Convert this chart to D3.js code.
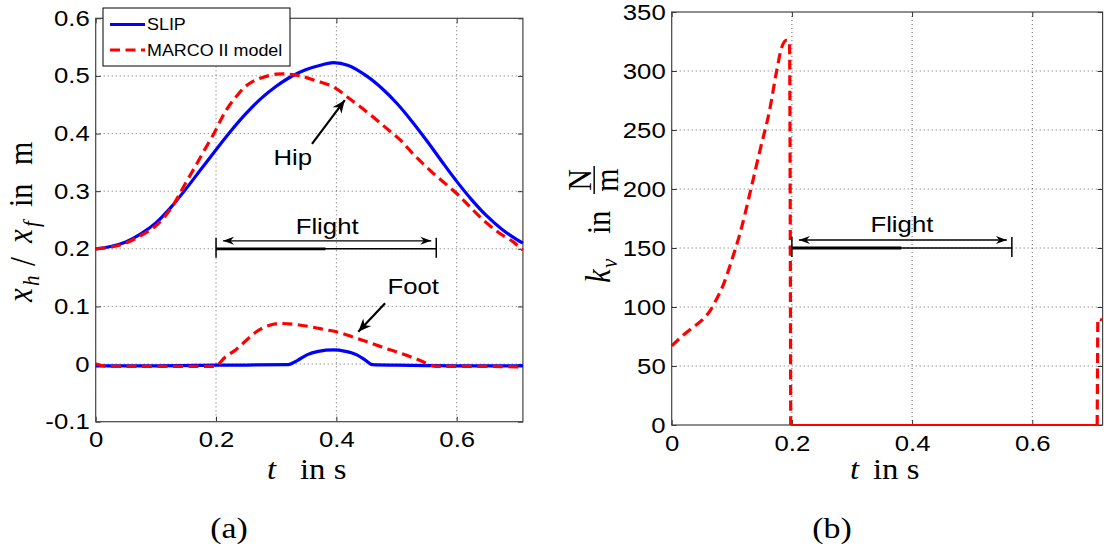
<!DOCTYPE html>
<html>
<head>
<meta charset="utf-8">
<script src="https://cdn.jsdelivr.net/npm/d3@7"></script>
<style>
  body { margin: 0; background: #fff; }
  svg { display: block; }
</style>
</head>
<body>
<svg id="fig" width="1104" height="547"></svg>
<script>
// ---------- panel (a): hip and foot positions (m) over time (s) ----------
const slipHipT = [0, 0.025, 0.05, 0.075, 0.1, 0.125, 0.15, 0.175, 0.2, 0.225, 0.25, 0.275, 0.3, 0.325, 0.35, 0.375, 0.395, 0.42, 0.45, 0.475, 0.5, 0.525, 0.55, 0.575, 0.6, 0.625, 0.65, 0.675, 0.7, 0.71];
const slipHip  = [0.200, 0.204, 0.212, 0.226, 0.245, 0.272, 0.304, 0.338, 0.372, 0.405, 0.435, 0.461, 0.482, 0.499, 0.511, 0.519, 0.523, 0.518, 0.500, 0.479, 0.453, 0.422, 0.388, 0.352, 0.317, 0.285, 0.257, 0.234, 0.216, 0.210];

const marcoHipT = [0, 0.025, 0.05, 0.075, 0.1, 0.125, 0.15, 0.165, 0.18, 0.197, 0.21, 0.221, 0.235, 0.248, 0.262, 0.276, 0.3, 0.32, 0.34, 0.365, 0.395, 0.42, 0.45, 0.48, 0.506, 0.53, 0.561, 0.6, 0.62, 0.644, 0.67, 0.694, 0.705, 0.71];
const marcoHip  = [0.200, 0.203, 0.210, 0.223, 0.240, 0.270, 0.315, 0.342, 0.370, 0.401, 0.428, 0.447, 0.466, 0.481, 0.491, 0.497, 0.503, 0.503, 0.500, 0.492, 0.481, 0.462, 0.438, 0.412, 0.389, 0.362, 0.331, 0.296, 0.275, 0.250, 0.228, 0.212, 0.202, 0.198];

const slipFootT = [0, 0.1, 0.2, 0.32, 0.335, 0.351, 0.37, 0.395, 0.415, 0.434, 0.448, 0.46, 0.5, 0.6, 0.71];
const slipFoot  = [-0.003, -0.003, -0.002, -0.001, 0.006, 0.016, 0.022, 0.0245, 0.022, 0.016, 0.007, -0.001, -0.002, -0.003, -0.003];

const marcoFootT = [0, 0.02, 0.1, 0.198, 0.215, 0.233, 0.25, 0.267, 0.285, 0.306, 0.33, 0.356, 0.38, 0.4, 0.425, 0.45, 0.48, 0.506, 0.535, 0.567, 0.65, 0.7, 0.71];
const marcoFoot  = [0, -0.004, -0.004, -0.004, 0.012, 0.025, 0.041, 0.056, 0.066, 0.0705, 0.069, 0.065, 0.060, 0.056, 0.048, 0.039, 0.028, 0.019, 0.008, -0.004, -0.004, -0.005, -0.006];

// ---------- panel (b): vertical stiffness k_v (N/m) ----------
const kvStanceT = [0, 0.019, 0.036, 0.053, 0.064, 0.075, 0.086, 0.102, 0.114, 0.130, 0.147, 0.163, 0.175, 0.183, 0.191, 0.196, 0.198];
const kvStance  = [67, 76, 83, 90, 97, 107, 119, 143, 163, 196, 233, 267, 301, 320, 326, 325, 0];
const kvFlightT = [0.198, 0.708];
const kvFlight  = [0, 0];
const kvTouchT  = [0.708, 0.709, 0.716];
const kvTouch   = [0, 90, 89];

// flight phase
const flightStart = 0.2, flightEnd = 0.566, flightMark = 0.382;

// tick values
const xTicks  = [0, 0.2, 0.4, 0.6];
const yTicksA = [-0.1, 0, 0.1, 0.2, 0.3, 0.4, 0.5, 0.6];
const yTicksB = [0, 50, 100, 150, 200, 250, 300, 350];

// legend entries
const legendItems = [
  { name: "SLIP", color: "#0000ff", dash: null },
  { name: "MARCO II model", color: "#ff0000", dash: "10,5.5" }
];

const BLUE = "#0000ff", RED = "#ff0000";
const SANS = "'Liberation Sans', Arial, Helvetica, sans-serif";
const SERIF = "'Liberation Serif', 'Times New Roman', serif";
const SX = 1.17;   // horizontal widening of the sans lettering
const SXS = 1.13;  // horizontal widening of the serif lettering
const DASH = "10,5.5";
const SMOOTH = d3.curveCatmullRom.alpha(0.5);

const svg = d3.select("#fig");

const xA = d3.scaleLinear([0, 0.71], [95.7, 522.9]);
const yA = d3.scaleLinear([-0.1, 0.6], [421.7, 18.3]);
const xB = d3.scaleLinear([0, 0.717], [671.7, 1102.6]);
const yB = d3.scaleLinear([0, 350], [425, 12]);

const fmtNum = d => (d === 0 ? "0" : String(+d.toFixed(2)));

function sansText(g, x, y, str, size, anchor) {
  return g.append("text")
    .attr("transform", `translate(${x},${y}) scale(${SX},1)`)
    .attr("text-anchor", anchor)
    .attr("font-family", SANS)
    .attr("font-size", size)
    .attr("fill", "#000")
    .text(str);
}

function drawPanel(x, y, yTicks) {
  const g = svg.append("g");
  const [xl, xr] = x.range();
  const [yb, yt] = y.range();
  const [dx0, dx1] = x.domain();
  const [dy0, dy1] = y.domain();

  // dotted grid
  g.append("g").selectAll("line")
    .data(xTicks.filter(d => d > dx0 && d < dx1)).join("line")
    .attr("x1", d => x(d)).attr("x2", d => x(d))
    .attr("y1", yt).attr("y2", yb);
  g.append("g").selectAll("line")
    .data(yTicks.filter(d => d > dy0 && d < dy1)).join("line")
    .attr("x1", xl).attr("x2", xr)
    .attr("y1", d => y(d)).attr("y2", d => y(d));
  g.selectAll("line")
    .attr("stroke", "#666").attr("stroke-width", 1)
    .attr("stroke-dasharray", "1,3");

  // axes with inward ticks on all four sides
  const bottom = g.append("g").attr("transform", `translate(0,${yb})`)
    .call(d3.axisBottom(x).tickValues(xTicks).tickSizeInner(-5).tickSizeOuter(0)
      .tickPadding(10).tickFormat(fmtNum));
  const left = g.append("g").attr("transform", `translate(${xl},0)`)
    .call(d3.axisLeft(y).tickValues(yTicks).tickSizeInner(-5).tickSizeOuter(0)
      .tickPadding(5).tickFormat(fmtNum));
  const top = g.append("g").attr("transform", `translate(0,${yt})`)
    .call(d3.axisTop(x).tickValues(xTicks).tickSizeInner(-5).tickSizeOuter(0).tickFormat(""));
  const right = g.append("g").attr("transform", `translate(${xr},0)`)
    .call(d3.axisRight(y).tickValues(yTicks).tickSizeInner(-5).tickSizeOuter(0).tickFormat(""));

  [bottom, left, top, right].forEach(a => {
    a.select(".domain").remove();
    a.selectAll(".tick line").attr("stroke", "#333").attr("stroke-width", 1);
    a.selectAll(".tick text").attr("font-family", SANS).attr("font-size", 22).attr("fill", "#000");
  });
  bottom.selectAll(".tick text").attr("transform", `scale(${SX},1)`);
  left.selectAll(".tick text")
    .attr("x", -6 / SX)
    .attr("transform", `scale(${SX},1)`);

  // axes box
  g.append("rect")
    .attr("x", xl).attr("y", yt)
    .attr("width", xr - xl).attr("height", yb - yt)
    .attr("fill", "none").attr("stroke", "#444").attr("stroke-width", 1.2);
  return g;
}

function series(g, x, y, ts, vs, color, dash, width, curve) {
  const pts = ts.map((t, i) => [t, vs[i]]);
  g.append("path")
    .datum(pts)
    .attr("d", d3.line().x(d => x(d[0])).y(d => y(d[1])).curve(curve || d3.curveMonotoneX))
    .attr("fill", "none")
    .attr("stroke", color)
    .attr("stroke-width", width)
    .attr("stroke-dasharray", dash)
    .attr("stroke-linejoin", "round");
}

function arrowHead(x1, y1, x2, y2, len, half, back) {
  const a = Math.atan2(y2 - y1, x2 - x1);
  const ca = Math.cos(a), sa = Math.sin(a);
  const bx = x2 - len * ca, by = y2 - len * sa;
  const p1 = [bx - half * sa, by + half * ca];
  const p2 = [bx + half * sa, by - half * ca];
  const n = [x2 - (len - back) * ca, y2 - (len - back) * sa];
  return `M${x2},${y2}L${p1[0]},${p1[1]}L${n[0]},${n[1]}L${p2[0]},${p2[1]}Z`;
}

function pointer(g, x1, y1, x2, y2) {
  g.append("line").attr("x1", x1).attr("y1", y1).attr("x2", x2).attr("y2", y2)
    .attr("stroke", "#000").attr("stroke-width", 2.2);
  g.append("path").attr("d", arrowHead(x1, y1, x2, y2, 13, 5.5, 4)).attr("fill", "#000");
}

// flight-phase span marker: bar | <---> | above a baseline at level v
function flightSpan(g, x, yPix) {
  const xs = x(flightStart), xe = x(flightEnd), xm = x(flightMark);
  g.append("line").attr("x1", xs).attr("x2", xe).attr("y1", yPix).attr("y2", yPix)
    .attr("stroke", "#000").attr("stroke-width", 1.4);
  g.append("line").attr("x1", xs).attr("x2", xm).attr("y1", yPix).attr("y2", yPix)
    .attr("stroke", "#000").attr("stroke-width", 2.8);
  [xs, xe].forEach(xx => g.append("line")
    .attr("x1", xx).attr("x2", xx).attr("y1", yPix - 11).attr("y2", yPix + 9)
    .attr("stroke", "#000").attr("stroke-width", 1.5));
  const ya = yPix - 8;
  const a0 = xs + 7, a1 = xe - 5;
  g.append("line").attr("x1", a0).attr("x2", a1).attr("y1", ya).attr("y2", ya)
    .attr("stroke", "#000").attr("stroke-width", 1.3);
  g.append("path").attr("d", arrowHead(a1, ya, a0, ya, 11, 4, 3.5)).attr("fill", "#000");
  g.append("path").attr("d", arrowHead(a0, ya, a1, ya, 11, 4, 3.5)).attr("fill", "#000");
}

// ================= panel (a) =================
const gA = drawPanel(xA, yA, yTicksA);
series(gA, xA, yA, slipHipT, slipHip, BLUE, null, 3.2, SMOOTH);
series(gA, xA, yA, slipFootT, slipFoot, BLUE, null, 3.2);
series(gA, xA, yA, marcoHipT, marcoHip, RED, DASH, 3.2, SMOOTH);
series(gA, xA, yA, marcoFootT, marcoFoot, RED, DASH, 3.2);

flightSpan(gA, xA, yA(0.2));
sansText(gA, (xA(flightStart) + xA(flightEnd)) / 2 + 1, 234, "Flight", 22, "middle");

pointer(gA, xA(0.3595), yA(0.382), xA(0.414), yA(0.458));
sansText(gA, xA(0.3595), 165, "Hip", 22, "end");
pointer(gA, xA(0.481), yA(0.1055), xA(0.4364), yA(0.0562));
sansText(gA, xA(0.485), 294, "Foot", 22, "start");

// legend
const lg = svg.append("g");
lg.append("rect").attr("x", 103).attr("y", 8).attr("width", 187).attr("height", 58)
  .attr("fill", "#fff").attr("stroke", "#000").attr("stroke-width", 1);
legendItems.forEach((it, i) => {
  const ly = 24.5 + i * 25.5;
  lg.append("line").attr("x1", 110).attr("x2", 145).attr("y1", ly).attr("y2", ly)
    .attr("stroke", it.color).attr("stroke-width", 3.2)
    .attr("stroke-dasharray", it.dash);
  lg.append("text")
    .attr("transform", `translate(147,${ly + 5.8}) scale(1.12,1)`)
    .attr("font-family", SANS).attr("font-size", 16).attr("fill", "#000")
    .text(it.name);
});

// ================= panel (b) =================
const gB = drawPanel(xB, yB, yTicksB);
series(gB, xB, yB, kvFlightT, kvFlight, RED, null, 2.2, d3.curveLinear);
series(gB, xB, yB, kvStanceT, kvStance, RED, DASH, 3.2);
series(gB, xB, yB, kvTouchT, kvTouch, RED, DASH, 3.2, d3.curveLinear);

flightSpan(gB, xB, yB(150));
sansText(gB, (xB(flightStart) + xB(flightEnd)) / 2, 232, "Flight", 22, "middle");

// ================= axis titles (math lettering) =================
function serifText(g, x, y, size, parts) {
  const t = g.append("text")
    .attr("transform", `translate(${x},${y}) scale(${SXS},1)`)
    .attr("font-family", SERIF).attr("font-size", size).attr("fill", "#000");
  parts.forEach(p => {
    const s = t.append("tspan").text(p.s);
    if (p.i) s.attr("font-style", "italic");
    if (p.x !== undefined) s.attr("x", p.x);
  });
  return t;
}

const titles = svg.append("g");
// t in s  (a)
serifText(titles, 267, 479, 29, [{ s: "t", i: true }, { s: "in s", x: (300 - 267) / SXS }]);
// t in s  (b)
serifText(titles, 850, 479, 29, [{ s: "t", i: true }, { s: "in s", x: (873 - 850) / SXS }]);

// x_h / x_f in m  (rotated)
const yl = titles.append("g").attr("transform", "translate(32,0) rotate(-90) scale(1,1.13)");
function rot(g, lx, ly, size, str, italic) {
  const t = g.append("text").attr("x", lx).attr("y", ly)
    .attr("font-family", SERIF).attr("font-size", size).attr("fill", "#000").text(str);
  if (italic) t.attr("font-style", "italic");
  return t;
}
rot(yl, -302, 0, 31, "x", true);
rot(yl, -286, 6, 21, "h", true);
rot(yl, -266, 3, 32, "/", false);
rot(yl, -243, 0, 31, "x", true);
rot(yl, -227, 6, 21, "f", true);
rot(yl, -207, 0, 30, "in", false);
rot(yl, -165, 0, 30, "m", false);

// k_v in N/m  (rotated)
const kl = titles.append("g").attr("transform", "translate(610,0) rotate(-90) scale(1,1.13)");
rot(kl, -283, 0, 31, "k", true);
rot(kl, -268, 6, 21, "v", true);
rot(kl, -234, 0, 30, "in", false);
rot(kl, -180, -17, 30, "N", false).attr("text-anchor", "middle");
kl.append("line").attr("x1", -194).attr("x2", -166).attr("y1", -14).attr("y2", -14)
  .attr("stroke", "#000").attr("stroke-width", 1.3);
rot(kl, -180, 7, 30, "m", false).attr("text-anchor", "middle");

// sub-figure captions
titles.append("text").attr("transform", `translate(229,538) scale(${SXS},1)`)
  .attr("text-anchor", "middle").attr("font-family", SERIF).attr("font-size", 30).text("(a)");
titles.append("text").attr("transform", `translate(832,538) scale(${SXS},1)`)
  .attr("text-anchor", "middle").attr("font-family", SERIF).attr("font-size", 30).text("(b)");
</script>
</body>
</html>
